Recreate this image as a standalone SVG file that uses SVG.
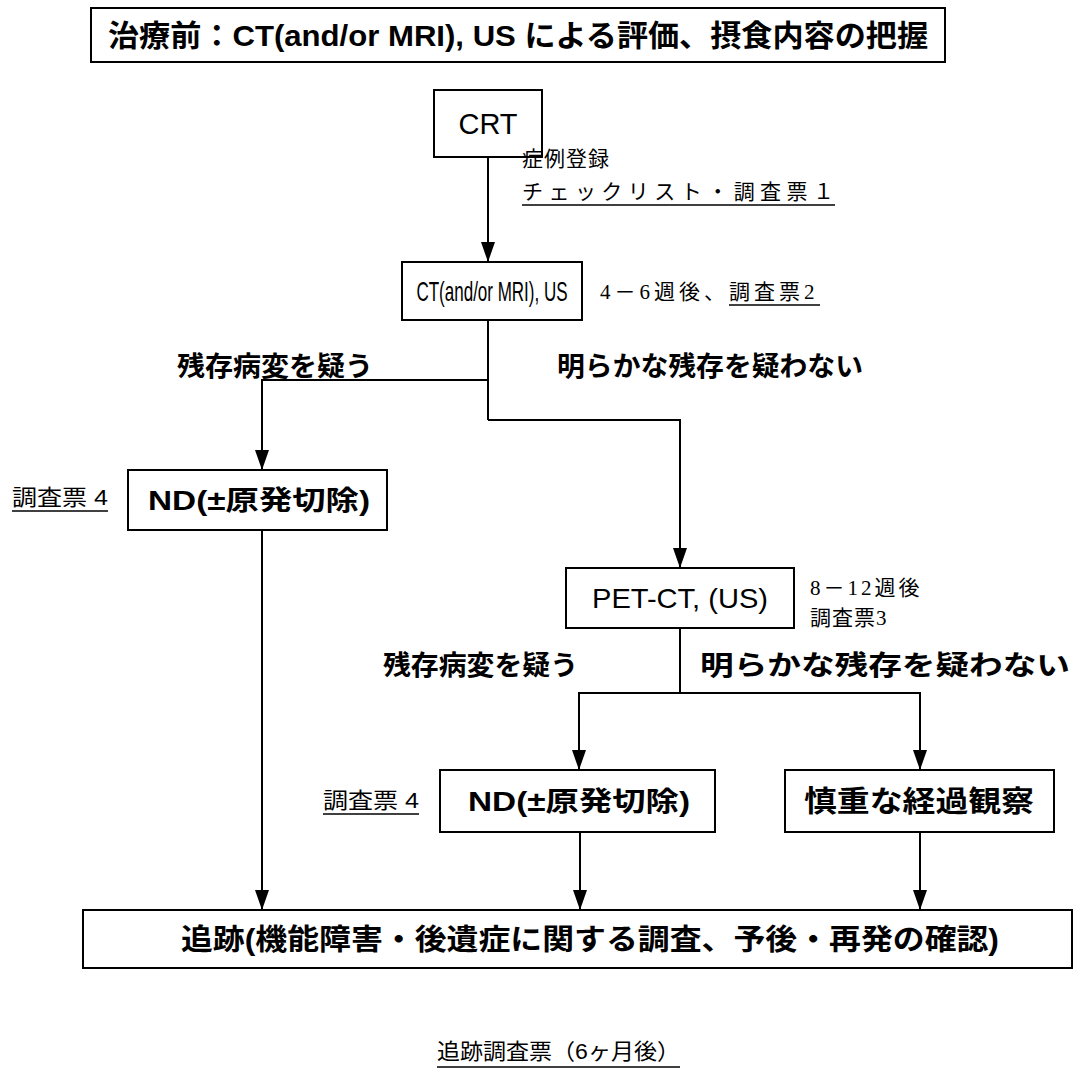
<svg xmlns="http://www.w3.org/2000/svg" width="1083" height="1090" viewBox="0 0 1083 1090">
<defs>
<marker id="ah" markerWidth="20" markerHeight="14" refX="20" refY="7" orient="auto-start-reverse" markerUnits="userSpaceOnUse" viewBox="0 0 20 14">
<path d="M0,0 L20,7 L0,14 Z" fill="#000"/>
</marker>
<style>
.box{fill:#fff;stroke:#000;stroke-width:2}
.g{font-family:"Liberation Sans","Noto Sans CJK JP",sans-serif;font-weight:bold;fill:#000}
.r{font-family:"Liberation Sans","Noto Sans CJK JP",sans-serif;font-weight:normal;fill:#000}
.m{font-family:"Liberation Serif","Noto Sans CJK JP",serif;fill:#000;font-size:21px}
.ln{fill:none;stroke:#000;stroke-width:2}
.ul{stroke:#000;stroke-width:1.5}
</style>
</defs>
<rect width="1083" height="1090" fill="#fff"/>

<g id="top">
<rect class="box" x="91" y="8" width="854" height="54"/>
<text class="g" x="518" y="46" font-size="30" text-anchor="middle" textLength="820" lengthAdjust="spacingAndGlyphs">治療前：CT(and/or MRI), US による評価、摂食内容の把握</text>
</g>

<g id="crt">
<rect class="box" x="434" y="90" width="108" height="67"/>
<text class="r" x="488" y="134" font-size="29" text-anchor="middle">CRT</text>
</g>

<g id="lbl-reg">
<text class="m" x="522" y="166" letter-spacing="1">症例登録</text>
<text class="m" x="522" y="199" textLength="312" lengthAdjust="spacing">チェックリスト・調査票１</text>
<line class="ul" x1="522" y1="205" x2="835" y2="205"/>
</g>

<g id="ct">
<rect class="box" x="402" y="262" width="180" height="58"/>
<text class="r" transform="translate(492,301) scale(0.63,1)" x="0" y="0" font-size="27" text-anchor="middle">CT(and/or MRI), US</text>
</g>

<g id="lbl-ct">
<text class="m" x="600" y="299" letter-spacing="4">4－6週後、調査票2</text>
<line class="ul" x1="729" y1="305" x2="820" y2="305"/>
</g>

<g id="branch1-labels">
<text class="g" x="177" y="376" font-size="27" textLength="196" lengthAdjust="spacingAndGlyphs">残存病変を疑う</text>
<text class="g" x="557" y="376" font-size="27" textLength="306" lengthAdjust="spacingAndGlyphs">明らかな残存を疑わない</text>
</g>

<g id="nd1">
<rect class="box" x="128" y="470" width="259" height="60"/>
<text class="g" x="259" y="510" font-size="27" text-anchor="middle" textLength="222" lengthAdjust="spacingAndGlyphs">ND(±原発切除)</text>
</g>
<g id="lbl-nd1">
<text class="r" x="12" y="505" font-size="22" textLength="96" lengthAdjust="spacingAndGlyphs">調査票 4</text>
<line class="ul" x1="12" y1="511" x2="108" y2="511"/>
</g>

<g id="pet">
<rect class="box" x="566" y="568" width="228" height="60"/>
<text class="r" x="680" y="608" font-size="28" text-anchor="middle" textLength="176" lengthAdjust="spacingAndGlyphs">PET-CT, (US)</text>
</g>
<g id="lbl-pet">
<text class="m" x="810" y="595" letter-spacing="3">8－12週後</text>
<text class="m" x="810" y="625" letter-spacing="1">調査票3</text>
</g>

<g id="branch2-labels">
<text class="g" x="383" y="675" font-size="27" textLength="195" lengthAdjust="spacingAndGlyphs">残存病変を疑う</text>
<text class="g" x="700" y="675" font-size="27" textLength="370" lengthAdjust="spacingAndGlyphs">明らかな残存を疑わない</text>
</g>

<g id="nd2">
<rect class="box" x="440" y="770" width="275" height="62"/>
<text class="g" x="579" y="811" font-size="27" text-anchor="middle" textLength="222" lengthAdjust="spacingAndGlyphs">ND(±原発切除)</text>
</g>
<g id="lbl-nd2">
<text class="r" x="323" y="808" font-size="22" textLength="96" lengthAdjust="spacingAndGlyphs">調査票 4</text>
<line class="ul" x1="323" y1="814" x2="419" y2="814"/>
</g>

<g id="watch">
<rect class="box" x="785" y="770" width="269" height="62"/>
<text class="g" x="919" y="812" font-size="29" text-anchor="middle" textLength="230" lengthAdjust="spacingAndGlyphs">慎重な経過観察</text>
</g>

<g id="follow">
<rect class="box" x="83" y="910" width="989" height="58"/>
<text class="g" x="590" y="950" font-size="29" text-anchor="middle" textLength="818" lengthAdjust="spacingAndGlyphs">追跡(機能障害・後遺症に関する調査、予後・再発の確認)</text>
</g>

<g id="lbl-follow">
<text class="r" x="437" y="1059" font-size="22" textLength="243" lengthAdjust="spacingAndGlyphs">追跡調査票（6ヶ月後）</text>
<line class="ul" x1="437" y1="1067" x2="680" y2="1067"/>
</g>

<g id="connectors">
<line class="ln" x1="488" y1="157" x2="488" y2="262" marker-end="url(#ah)"/>
<line class="ln" x1="488" y1="320" x2="488" y2="420"/>
<polyline class="ln" points="488,380 262,380 262,470" marker-end="url(#ah)"/>
<polyline class="ln" points="488,420 680,420 680,568" marker-end="url(#ah)"/>
<line class="ln" x1="262" y1="530" x2="262" y2="910" marker-end="url(#ah)"/>
<line class="ln" x1="680" y1="628" x2="680" y2="693"/>
<polyline class="ln" points="579,770 579,693 920,693 920,770" marker-start="url(#ah)" marker-end="url(#ah)"/>
<line class="ln" x1="580" y1="832" x2="580" y2="910" marker-end="url(#ah)"/>
<line class="ln" x1="920" y1="832" x2="920" y2="910" marker-end="url(#ah)"/>
</g>
</svg>
